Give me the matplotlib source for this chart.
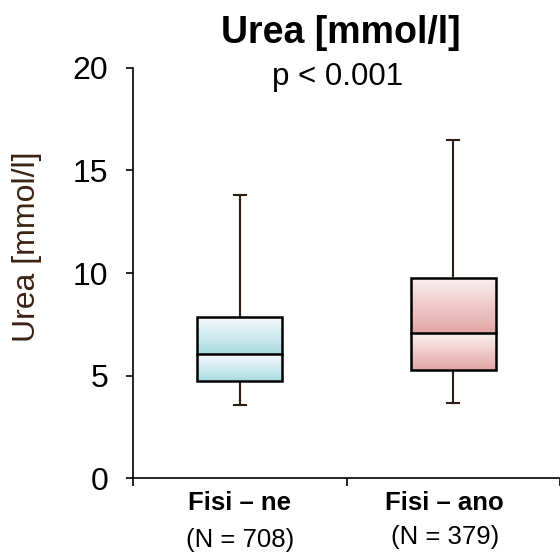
import numpy as np
import matplotlib
matplotlib.use("Agg")
import matplotlib.pyplot as plt
from matplotlib.colors import LinearSegmentedColormap
from matplotlib.patches import Rectangle

plt.rcParams['font.family'] = ['Liberation Sans', 'DejaVu Sans']

groups = ["Fisi – ne", "Fisi – ano"]
counts = ["(N = 708)", "(N = 379)"]
whisker_lo = [3.55, 3.65]
q1 = [4.75, 5.25]
median = [6.05, 7.05]
q3 = [7.85, 9.75]
whisker_hi = [13.8, 16.5]
colors = ["#a9dae3", "#e3a5a5"]

fig = plt.figure(figsize=(5.6, 5.55), dpi=100)
ax = fig.add_axes([0.2375, 0.1387, 0.7625, 0.7388])

line_col = "#2e1d12"
bw = 0.4
label_x = [1.0, 1.96]
for i in range(len(groups)):
    x = i + 1
    # gradient fill, each half fades from white at top to the colour at bottom
    cmap = LinearSegmentedColormap.from_list("g", ["#f7fbfc" if i == 0 else "#fbf1f1", colors[i]])
    grad = np.linspace(0, 1, 100).reshape(-1, 1)
    for lo, hi in [(q1[i], median[i]), (median[i], q3[i])]:
        ax.imshow(grad, cmap=cmap, aspect='auto', extent=[x - bw / 2, x + bw / 2, lo, hi],
                  origin='upper', zorder=2)
    ax.add_patch(Rectangle((x - bw / 2, q1[i]), bw, q3[i] - q1[i], fill=False,
                           edgecolor='black', lw=1.8, zorder=3))
    ax.plot([x - bw / 2, x + bw / 2], [median[i], median[i]], color='black', lw=1.8, zorder=3)
    ax.plot([x, x], [q3[i], whisker_hi[i]], color=line_col, lw=1.5, zorder=1)
    ax.plot([x, x], [q1[i], whisker_lo[i]], color=line_col, lw=1.5, zorder=1)
    ax.plot([x - 0.028, x + 0.028], [whisker_hi[i]] * 2, color=line_col, lw=1.5)
    ax.plot([x - 0.028, x + 0.028], [whisker_lo[i]] * 2, color=line_col, lw=1.5)
    ax.text(label_x[i], -1.22, groups[i], ha='center', va='center', fontsize=18.5,
            fontweight='bold', clip_on=False)
    ax.text(label_x[i], -3.0 + 0.12 * i, counts[i], ha='center', va='center', fontsize=18.5,
            clip_on=False)

ax.set_xlim(0.5, 2.5)
ax.set_ylim(0, 20)
ax.set_yticks([0, 5, 10, 15, 20])
ax.set_xticks([0.5, 1.5, 2.5])
ax.set_xticklabels([])
ax.tick_params(axis='y', labelsize=23, length=5, width=1.2, pad=13)
ax.tick_params(axis='x', length=6, width=1.2)
ax.spines['top'].set_visible(False)
ax.spines['right'].set_visible(False)
ax.spines['left'].set_linewidth(1.2)
ax.spines['bottom'].set_linewidth(1.2)
fig.text(27 / 560, 1 - 247 / 555, "Urea [mmol/l]", rotation=90, ha='center', va='center',
         fontsize=23, color="#3b2314")
ax.text(1.46, 19.55, "p < 0.001", ha='center', va='center', fontsize=22.5, clip_on=False)
fig.text(341 / 560, 1 - 33 / 555, "Urea [mmol/l]", ha='center', va='center', fontsize=27,
         fontweight='bold')

fig.savefig("out.png", dpi=100)
